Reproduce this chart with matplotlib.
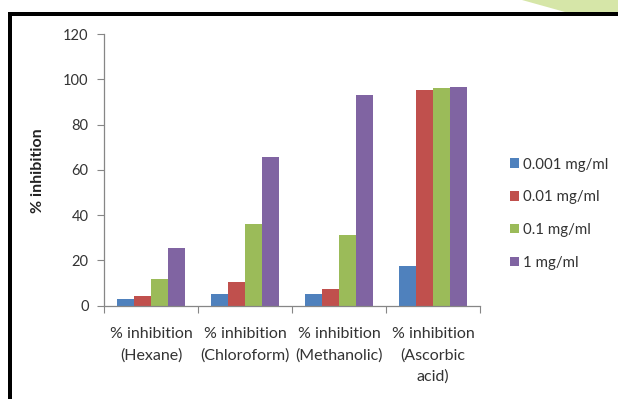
import matplotlib
matplotlib.use("Agg")
import matplotlib.pyplot as plt
import numpy as np
from matplotlib.patches import Polygon, Rectangle

plt.rcParams['font.family'] = ['Lato', 'DejaVu Sans']

categories = ["% inhibition\n(Hexane)", "% inhibition\n(Chloroform)",
              "% inhibition\n(Methanolic)", "% inhibition\n(Ascorbic\nacid)"]
series_names = ["0.001 mg/ml", "0.01 mg/ml", "0.1 mg/ml", "1 mg/ml"]
conc_0001 = [3.0, 5.0, 5.0, 17.4]
conc_001 = [4.1, 10.3, 7.4, 95.3]
conc_01 = [11.6, 36.1, 31.1, 96.0]
conc_1 = [25.5, 65.8, 93.1, 96.5]
yticks = [0, 20, 40, 60, 80, 100, 120]

series = [conc_0001, conc_001, conc_01, conc_1]
colors = ["#4F81BD", "#C0504D", "#9BBB59", "#8064A2"]

fig = plt.figure(figsize=(6.18, 3.99), dpi=100)
ax = fig.add_axes([104/618, 1-305.7/399, 376/618, (305.7-34)/399])

x = np.arange(len(categories))
w = 0.181
for i, (vals, c, name) in enumerate(zip(series, colors, series_names)):
    ax.bar(x + (i - 1.5) * w, vals, width=w, color=c, label=name, zorder=2)

ax.set_xlim(-0.5, 3.5)
ax.set_ylim(0, 120)
ax.set_yticks(yticks)
ax.tick_params(axis='y', length=5, color='#868686', labelsize=10.5, labelcolor='#333333', pad=6)

# category boundaries carry the tick marks; names sit at the centres
ax.set_xticks(np.arange(-0.5, 4.0, 1.0))
ax.set_xticklabels([])
ax.tick_params(axis='x', which='major', length=5, color='#868686')
ax.set_xticks(x, minor=True)
ax.set_xticklabels(categories, minor=True, fontsize=11.5, color='#333333', linespacing=1.65)
ax.tick_params(axis='x', which='minor', length=0, pad=15)

for s in ['top', 'right']:
    ax.spines[s].set_visible(False)
for s in ['left', 'bottom']:
    ax.spines[s].set_color('#868686')
    ax.spines[s].set_linewidth(0.9)

fig.text(38/618, 1-171/399, "% inhibition", rotation=90, ha='center', va='center',
         fontsize=11.5, fontweight='bold', color='#222222')

leg = fig.legend(loc='upper left', bbox_to_anchor=(496/618, 1-144/399), frameon=False,
                 fontsize=10.8, handlelength=0.6, handleheight=0.6, handletextpad=0.3,
                 labelspacing=1.25, labelcolor='#333333')

# page frame and leaf ornament
fig.patches.append(Polygon([(522/618, 1.0), (618/618, 1.0), (618/618, 1-12/399),
                            (565/618, 1-12/399)], closed=True, transform=fig.transFigure,
                           facecolor='#d6e6a8', edgecolor='none', zorder=0))
fig.patches.append(Rectangle((8/618, 0), 4/618, 1-12/399, transform=fig.transFigure,
                             facecolor='black', edgecolor='none'))
fig.patches.append(Rectangle((8/618, 1-16/399), 1-8/618, 4/399, transform=fig.transFigure,
                             facecolor='black', edgecolor='none'))

fig.savefig("out.png", dpi=100)
